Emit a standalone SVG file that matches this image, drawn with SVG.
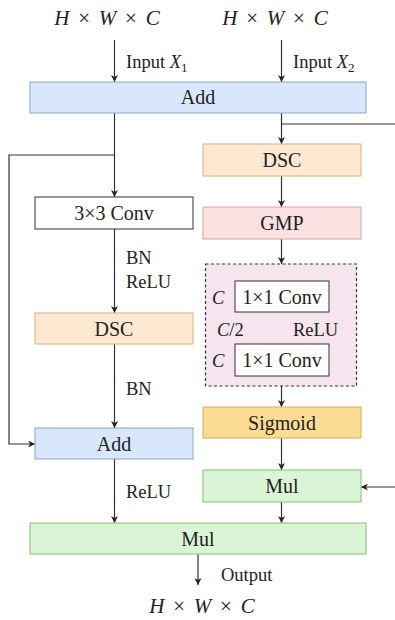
<svg xmlns="http://www.w3.org/2000/svg" width="395" height="620" viewBox="0 0 395 620">
<style>
text{font-family:Liberation Serif,DejaVu Serif,serif;fill:#222}
.lbl{font-size:20px;text-anchor:middle}
.math{font-size:21px;text-anchor:middle;font-style:italic;word-spacing:3.5px}
.sm{font-size:18.5px}
.it{font-style:italic}
.blue{fill:#d8e7fb;stroke:#8ea6c6;stroke-width:1}
.peach{fill:#fde8d2;stroke:#d9b47a;stroke-width:1}
.pink{fill:#fbe1e1;stroke:#d8a3a3;stroke-width:1}
.yel{fill:#fbdc92;stroke:#d4b060;stroke-width:1}
.grn{fill:#daf5d6;stroke:#8cba7c;stroke-width:1}
.wht{fill:#ffffff;stroke:#333;stroke-width:1}
.ln{fill:none;stroke:#333;stroke-width:1.2}
.ar{fill:none;stroke:#333;stroke-width:1.2;marker-end:url(#ah)}
</style>
<defs>
<marker id="ah" viewBox="0 0 10 10" refX="10" refY="5" markerWidth="7" markerHeight="7" orient="auto-start-reverse" markerUnits="userSpaceOnUse">
<path d="M0,0 L10,5 L0,10 L3,5 z" fill="#222"/>
</marker>
</defs>
<rect width="395" height="620" fill="#ffffff"/>

<g id="labels-top">
<text class="math" x="107" y="25">H <tspan font-style="normal">×</tspan> W <tspan font-style="normal">×</tspan> C</text>
<text class="math" x="275" y="25">H <tspan font-style="normal">×</tspan> W <tspan font-style="normal">×</tspan> C</text>
<text class="sm" x="126" y="68">Input <tspan font-style="italic">X</tspan><tspan font-size="13" dy="4">1</tspan></text>
<text class="sm" x="293" y="68">Input <tspan font-style="italic">X</tspan><tspan font-size="13" dy="4">2</tspan></text>
</g>

<g id="connectors">
<line class="ar" x1="114.5" y1="40" x2="114.5" y2="82"/>
<line class="ar" x1="281.5" y1="40" x2="281.5" y2="82"/>
<line class="ar" x1="114.5" y1="113" x2="114.5" y2="197"/>
<polyline class="ar" points="114.5,155 9,155 9,444 35,444"/>
<line class="ar" x1="281.5" y1="113" x2="281.5" y2="144"/>
<line class="ln" x1="281.5" y1="124" x2="395" y2="124"/>
<line class="ar" x1="281.5" y1="176" x2="281.5" y2="207"/>
<line class="ar" x1="281.5" y1="239" x2="281.5" y2="264"/>
<line class="ar" x1="281.5" y1="312" x2="281.5" y2="344"/>
<line class="ar" x1="281.5" y1="386" x2="281.5" y2="407"/>
<line class="ar" x1="281.5" y1="438" x2="281.5" y2="470"/>
<line class="ar" x1="395" y1="487" x2="361" y2="487"/>
<line class="ar" x1="281.5" y1="502" x2="281.5" y2="523"/>
<line class="ar" x1="114.5" y1="229" x2="114.5" y2="313"/>
<line class="ar" x1="114.5" y1="344" x2="114.5" y2="428"/>
<line class="ar" x1="114.5" y1="459" x2="114.5" y2="523"/>
<line class="ar" x1="198" y1="554" x2="198" y2="585"/>
<text class="sm" x="126" y="264">BN</text>
<text class="sm" x="126" y="288">ReLU</text>
<text class="sm" x="126" y="395">BN</text>
<text class="sm" x="126" y="498">ReLU</text>
<text class="sm" x="221" y="581">Output</text>
</g>

<g id="add-top">
<rect class="blue" x="30" y="82" width="336" height="31"/>
<text class="lbl" x="198" y="104">Add</text>
</g>

<g id="conv3">
<rect class="wht" x="35" y="197" width="158" height="32"/>
<text class="lbl" x="114" y="220">3×3 Conv</text>
</g>

<g id="dsc-left">
<rect class="peach" x="35" y="313" width="158" height="31"/>
<text class="lbl" x="114" y="336">DSC</text>
</g>

<g id="add-left">
<rect class="blue" x="35" y="428" width="158" height="31"/>
<text class="lbl" x="114" y="451">Add</text>
</g>

<g id="dsc-right">
<rect class="peach" x="203" y="144" width="158" height="32"/>
<text class="lbl" x="282" y="167">DSC</text>
</g>

<g id="gmp">
<rect class="pink" x="203" y="207" width="158" height="32"/>
<text class="lbl" x="282" y="230">GMP</text>
</g>

<g id="mlp">
<rect x="205.5" y="264" width="151" height="122" fill="#f6e5ee" stroke="#333" stroke-width="1.2" stroke-dasharray="3,2.5"/>
<rect class="wht" x="235" y="281" width="94" height="31"/>
<text class="lbl" x="282" y="304">1×1 Conv</text>
<rect class="wht" x="235" y="344" width="94" height="32"/>
<text class="lbl" x="282" y="367">1×1 Conv</text>
<text class="sm it" x="212" y="304">C</text>
<text class="sm it" x="212" y="367">C</text>
<text class="sm" x="217" y="336"><tspan font-style="italic">C</tspan>/2</text>
<text class="sm" x="293" y="336">ReLU</text>
</g>

<g id="sigmoid">
<rect class="yel" x="203" y="407" width="158" height="31"/>
<text class="lbl" x="282" y="430">Sigmoid</text>
</g>

<g id="mul-right">
<rect class="grn" x="203" y="470" width="158" height="32"/>
<text class="lbl" x="282" y="493">Mul</text>
</g>

<g id="mul-bottom">
<rect class="grn" x="30" y="523" width="336" height="31"/>
<text class="lbl" x="198" y="546">Mul</text>
</g>

<g id="label-bottom">
<text class="math" x="202" y="613">H <tspan font-style="normal">×</tspan> W <tspan font-style="normal">×</tspan> C</text>
</g>
</svg>
